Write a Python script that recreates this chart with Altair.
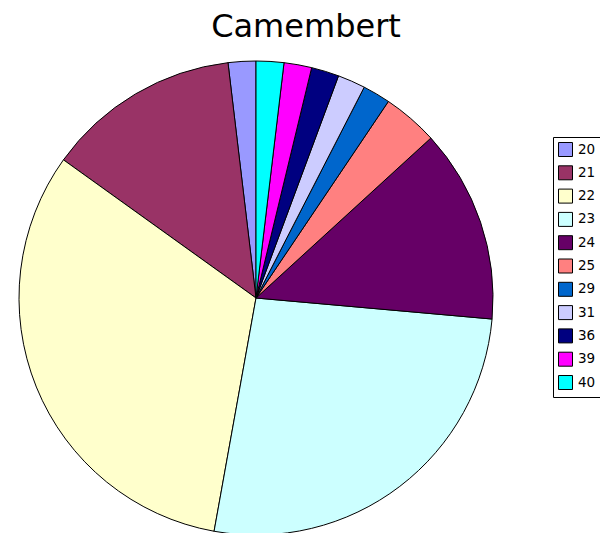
import altair as alt
import pandas as pd

categories = ["20", "21", "22", "23", "24", "25", "29", "31", "36", "39", "40"]
counts = [1, 7, 17, 14, 7, 2, 1, 1, 1, 1, 1]
colors = ["#9999FF", "#993366", "#FFFFCC", "#CCFFFF", "#660066", "#FF8080",
          "#0066CC", "#CCCCFF", "#000080", "#FF00FF", "#00FFFF"]
title_text = "Camembert"

df = pd.DataFrame({"cat": categories, "n": counts, "rank": list(range(len(categories)))})

pie = alt.Chart(df).mark_arc(radius=237, stroke="black", strokeWidth=1).encode(
    theta=alt.Theta("n:Q", stack=True),
    color=alt.Color(
        "cat:N",
        scale=alt.Scale(domain=categories, range=colors),
        legend=alt.Legend(
            title=None,
            orient="none",
            legendX=545,
            legendY=129,
            strokeColor="black",
            fillColor="white",
            padding=5,
            symbolType="square",
            symbolSize=196,
            symbolStrokeColor="black",
            symbolStrokeWidth=1,
            symbolOpacity=1,
            labelFont="DejaVu Sans",
            labelFontSize=13.5,
            labelColor="black",
            labelOffset=5,
            rowPadding=4.3,
            cornerRadius=0,
        ),
    ),
    order=alt.Order("rank:Q", sort="descending"),
    x=alt.value(248),
    y=alt.value(290),
)

title = alt.Chart(pd.DataFrame({"t": [title_text]})).mark_text(
    font="DejaVu Sans", fontSize=32, color="black", align="center", baseline="alphabetic"
).encode(text="t:N", x=alt.value(298), y=alt.value(29))

chart = alt.layer(pie, title).properties(
    width=592, height=525, padding=0, autosize="none"
).configure_view(stroke=None)

chart.save("out.html", embed_options={"renderer": "svg", "actions": False})
